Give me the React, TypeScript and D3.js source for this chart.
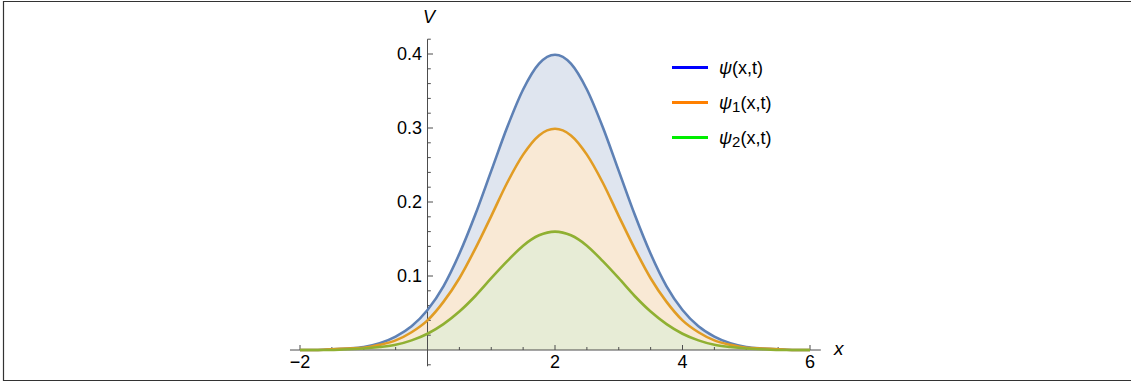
import React from "react";
import * as d3 from "d3";

const xs = [-2, -1.75, -1.5, -1.25, -1, -0.75, -0.5, -0.25, 0, 0.25, 0.5, 0.75, 1, 1.25, 1.5, 1.75, 2,
  2.25, 2.5, 2.75, 3, 3.25, 3.5, 3.75, 4, 4.25, 4.5, 4.75, 5, 5.25, 5.5, 5.75, 6];
const psi = [0.000, 0.000, 0.001, 0.002, 0.004, 0.009, 0.018, 0.032, 0.054, 0.086, 0.130, 0.183, 0.242, 0.301, 0.352, 0.387, 0.399,
  0.387, 0.352, 0.301, 0.242, 0.183, 0.130, 0.086, 0.054, 0.032, 0.018, 0.009, 0.004, 0.002, 0.001, 0.000, 0.000];
const psi1 = [0.000, 0.000, 0.001, 0.002, 0.003, 0.007, 0.013, 0.024, 0.040, 0.065, 0.097, 0.137, 0.181, 0.226, 0.264, 0.290, 0.299,
  0.290, 0.264, 0.226, 0.181, 0.137, 0.097, 0.065, 0.040, 0.024, 0.013, 0.007, 0.003, 0.002, 0.001, 0.000, 0.000];
const psi2 = [0.000, 0.000, 0.000, 0.001, 0.002, 0.004, 0.007, 0.013, 0.022, 0.035, 0.052, 0.073, 0.097, 0.120, 0.141, 0.155, 0.160,
  0.155, 0.141, 0.120, 0.097, 0.073, 0.052, 0.035, 0.022, 0.013, 0.007, 0.004, 0.002, 0.001, 0.000, 0.000, 0.000];

const xMajor = [-2, 2, 4, 6];
const xMinor = [-1.5, -1, -0.5, 0.5, 1, 1.5, 2.5, 3, 3.5, 4.5, 5, 5.5];
const yMajor = [0.1, 0.2, 0.3, 0.4];
const yMinor = [-0.02, 0.02, 0.04, 0.06, 0.08, 0.12, 0.14, 0.16, 0.18, 0.22, 0.24, 0.26, 0.28, 0.32, 0.34, 0.36, 0.38, 0.42];
const seriesNames = ["ψ", "ψ", "ψ"];
const seriesSubs = ["", "1", "2"];
const lineColors = ["#5e81b5", "#e19c24", "#8fb032"];
const fillColors = ["#dfe5ef", "#f9e9d5", "#e7ecd6"];
const legendColors = ["#0000ff", "#ff8000", "#00ee00"];

export default function App() {
  const W = 1131, H = 382;
  const x = d3.scaleLinear().domain([-2, 6]).range([300, 810]);
  const y = d3.scaleLinear().domain([0, 0.4]).range([350, 54]);
  const series = [psi, psi1, psi2];
  const line = d3.line<number>().x((_, i) => x(xs[i])).y((d) => y(d)).curve(d3.curveMonotoneX);
  const area = d3.area<number>().x((_, i) => x(xs[i])).y0(y(0)).y1((d) => y(d)).curve(d3.curveMonotoneX);
  const axisColor = "#4d4d4d";
  const font = "'Liberation Sans', Arial, sans-serif";
  return (
    <svg width={W} height={H} style={{ position: "absolute", left: 0, top: 0 }} fontFamily={font}>
      <rect x={0} y={0} width={W} height={H} fill="#fff" />
      <line x1={3} y1={1.5} x2={W} y2={1.5} stroke="#333" strokeWidth={1.2} />
      <line x1={3.5} y1={1} x2={3.5} y2={381} stroke="#333" strokeWidth={1.2} />
      <line x1={3} y1={380.5} x2={W} y2={380.5} stroke="#333" strokeWidth={1.2} />
      {series.map((s, i) => (
        <path key={"f" + i} d={area(s) || ""} fill={fillColors[i]} />
      ))}
      {/* axes */}
      <line x1={x(-2.157)} x2={x(6.17)} y1={y(0)} y2={y(0)} stroke={axisColor} strokeWidth={1} />
      <line x1={x(0)} x2={x(0)} y1={y(-0.022)} y2={y(0.42)} stroke={axisColor} strokeWidth={1} />
      {xMajor.map((v) => (
        <g key={"xM" + v}>
          <line x1={x(v)} x2={x(v)} y1={y(0)} y2={y(0) - 5} stroke={axisColor} />
          <text x={x(v)} y={368} textAnchor="middle" fontSize={18} fill="#000">
            {v < 0 ? "\u2212" + Math.abs(v) : v}
          </text>
        </g>
      ))}
      {xMinor.map((v) => (
        <line key={"xm" + v} x1={x(v)} x2={x(v)} y1={y(0)} y2={y(0) - 3} stroke={axisColor} />
      ))}
      {yMajor.map((v) => (
        <g key={"yM" + v}>
          <line x1={x(0)} x2={x(0) + 5.5} y1={y(v)} y2={y(v)} stroke={axisColor} />
          <text x={x(0) - 5.5} y={y(v)} dy="0.36em" textAnchor="end" fontSize={18} fill="#000">
            {v.toFixed(1)}
          </text>
        </g>
      ))}
      {yMinor.map((v) => (
        <line key={"ym" + v} x1={x(0)} x2={x(0) + 3.3} y1={y(v)} y2={y(v)} stroke={axisColor} />
      ))}
      <text x={x(0) + 1.5} y={23} textAnchor="middle" fontSize={18} fontStyle="italic" fill="#000">V</text>
      <text x={834} y={355} fontSize={19} fontStyle="italic" fill="#000">x</text>
      {series.map((s, i) => (
        <path key={"l" + i} d={line(s) || ""} fill="none" stroke={lineColors[i]} strokeWidth={2.6} />
      ))}
      {/* legend */}
      {seriesNames.map((n, i) => {
        const ly = 67.5 + i * 35;
        return (
          <g key={"lg" + i}>
            <line x1={672} x2={708} y1={ly} y2={ly} stroke={legendColors[i]} strokeWidth={3} />
            <text x={719} y={ly + 6.5} fontSize={18} fill="#000">
              <tspan fontStyle="italic">{n}</tspan>
              {seriesSubs[i] ? (
                <>
                  <tspan fontSize={15} dy={3}>{seriesSubs[i]}</tspan>
                  <tspan dy={-3}>(x,t)</tspan>
                </>
              ) : (
                <tspan>(x,t)</tspan>
              )}
            </text>
          </g>
        );
      })}
    </svg>
  );
}
